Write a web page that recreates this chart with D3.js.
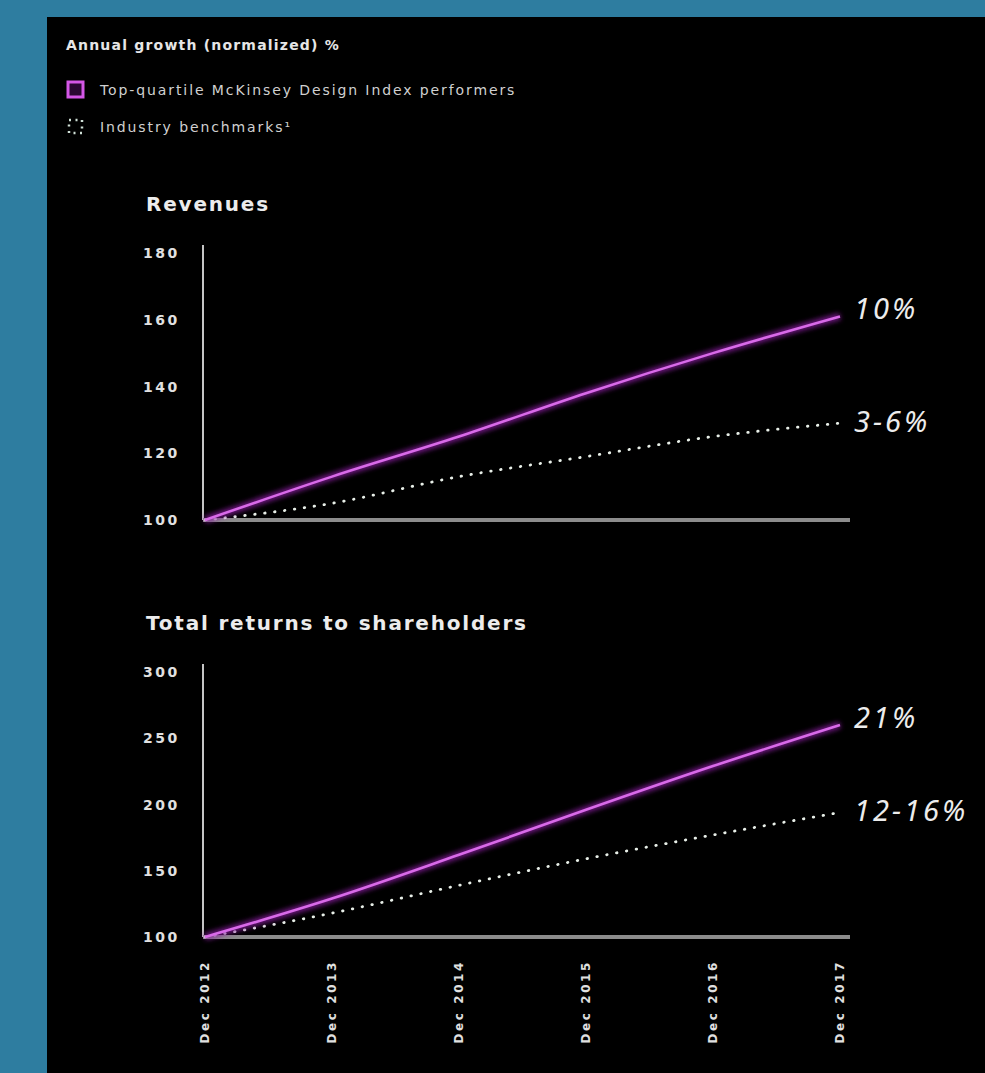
<!DOCTYPE html>
<html>
<head>
<meta charset="utf-8">
<script src="https://cdn.jsdelivr.net/npm/d3@7"></script>
<style>
  html, body { margin: 0; padding: 0; background: #2e7da0; }
  svg { display: block; }
</style>
</head>
<body>
<svg id="chart" width="985" height="1073"></svg>
<script>
// data
let years = [2012, 2013, 2014, 2015, 2016, 2017]
let yearLabels = ['Dec 2012', 'Dec 2013', 'Dec 2014', 'Dec 2015', 'Dec 2016', 'Dec 2017']

let revenueTop = [100, 113, 125, 138, 150, 161]
let revenueBench = [100, 105, 113, 119, 125, 129]
let revenueTicks = [100, 120, 140, 160, 180]
let revenueNotes = ['10%', '3-6%']

let trsTop = [100, 129, 162, 196, 229, 260]
let trsBench = [100, 118, 139, 159, 177, 194]
let trsTicks = [100, 150, 200, 250, 300]
let trsNotes = ['21%', '12-16%']

let legendLabels = ['Top-quartile McKinsey Design Index performers', 'Industry benchmarks¹']

let svg = d3.select('#chart')

// фон
svg.append('rect')
  .attr('x', 0).attr('y', 0)
  .attr('width', 985).attr('height', 1073)
  .attr('fill', '#2e7da0')
svg.append('rect')
  .attr('x', 47).attr('y', 17)
  .attr('width', 938).attr('height', 1056)
  .attr('fill', '#000')

let defs = svg.append('defs')
defs.append('filter')
  .attr('id', 'glow')
  .attr('x', '-10%').attr('y', '-50%')
  .attr('width', '120%').attr('height', '200%')
  .append('feGaussianBlur')
  .attr('stdDeviation', 2.5)

// заголовок и легенда
svg.append('text')
  .attr('x', 66).attr('y', 50)
  .attr('fill', '#e6e6e6')
  .style('font', 'bold 14px "DejaVu Sans"')
  .style('letter-spacing', '1.2px')
  .text('Annual growth (normalized) %')

let legend = svg.append('g').attr('transform', 'translate(67,81)')
legend.append('rect')
  .attr('x', 1).attr('y', 1)
  .attr('width', 15).attr('height', 15)
  .attr('fill', '#2a0832')
  .attr('stroke', '#d457e6')
  .attr('stroke-width', 3)
legend.append('rect')
  .attr('x', 2).attr('y', 39)
  .attr('width', 13).attr('height', 13)
  .attr('fill', 'none')
  .attr('stroke', '#cfe0d6')
  .attr('stroke-width', 2.5)
  .attr('stroke-dasharray', '2,4.5')
legend.selectAll('.legend-label')
  .data(legendLabels)
  .enter()
  .append('text')
  .attr('class', 'legend-label')
  .attr('x', 33)
  .attr('y', function (d, i) { return 14 + i * 37 })
  .attr('fill', '#d0d0d0')
  .style('font', '14px "DejaVu Sans"')
  .style('letter-spacing', '1.9px')
  .text(function (d) { return d })

let x = d3.scaleLinear()
  .domain([years[0], years[years.length - 1]])
  .range([205, 840])

function drawPanel (opts) {
  let y = d3.scaleLinear()
    .domain([opts.ticks[0], opts.ticks[opts.ticks.length - 1]])
    .range([opts.bottom, opts.top])

  let g = svg.append('g')

  g.append('text')
    .attr('x', 146).attr('y', opts.top - 42)
    .attr('fill', '#ececec')
    .style('font', 'bold 20px "DejaVu Sans"')
    .style('letter-spacing', '1.8px')
    .text(opts.title)

  // ось y
  g.append('line')
    .attr('x1', x.range()[0] - 2).attr('x2', x.range()[0] - 2)
    .attr('y1', opts.top - 8).attr('y2', opts.bottom)
    .attr('stroke', '#c4c4c4')
    .attr('stroke-width', 2)

  g.selectAll('.ytick')
    .data(opts.ticks)
    .enter()
    .append('text')
    .attr('class', 'ytick')
    .attr('x', 143)
    .attr('y', function (d) { return y(d) })
    .attr('dy', '0.36em')
    .attr('fill', '#e0e0e0')
    .style('font', 'bold 14px "DejaVu Sans"')
    .style('letter-spacing', '2.5px')
    .text(function (d) { return d })

  // ось x
  g.append('line')
    .attr('x1', x.range()[0] - 2).attr('x2', x.range()[1] + 10)
    .attr('y1', opts.bottom).attr('y2', opts.bottom)
    .attr('stroke', '#8c8c8c')
    .attr('stroke-width', 4)

  let line = d3.line()
    .x(function (d, i) { return x(years[i]) })
    .y(function (d) { return y(d) })
    .curve(d3.curveMonotoneX)

  // бенчмарк точками
  g.append('path')
    .datum(opts.bench)
    .attr('d', line)
    .attr('fill', 'none')
    .attr('stroke', '#e8efe8')
    .attr('stroke-width', 2.8)
    .attr('stroke-linecap', 'round')
    .attr('stroke-dasharray', '0.5,9.5')

  // линия лидеров
  g.append('path')
    .datum(opts.top4)
    .attr('d', line)
    .attr('fill', 'none')
    .attr('stroke', '#8a1fa0')
    .attr('stroke-width', 7)
    .attr('opacity', 0.8)
    .attr('filter', 'url(#glow)')
  g.append('path')
    .datum(opts.top4)
    .attr('d', line)
    .attr('fill', 'none')
    .attr('stroke', '#d86ae8')
    .attr('stroke-width', 2.6)

  // подписи в конце линий
  let ends = [opts.top4[opts.top4.length - 1], opts.bench[opts.bench.length - 1]]
  g.selectAll('.note')
    .data(opts.notes)
    .enter()
    .append('text')
    .attr('class', 'note')
    .attr('x', x.range()[1] + 14)
    .attr('y', function (d, i) { return y(ends[i]) })
    .attr('dy', function (d, i) { return i === 0 ? '0.1em' : '0.3em' })
    .attr('fill', '#ececec')
    .style('font', 'italic 29px "Noto Sans"')
    .style('letter-spacing', '3px')
    .text(function (d) { return d })

  return g
}

drawPanel({
  title: 'Revenues',
  ticks: revenueTicks,
  top4: revenueTop,
  bench: revenueBench,
  notes: revenueNotes,
  top: 253,
  bottom: 520
})

let trs = drawPanel({
  title: 'Total returns to shareholders',
  ticks: trsTicks,
  top4: trsTop,
  bench: trsBench,
  notes: trsNotes,
  top: 672,
  bottom: 937
})

// подписи дат
trs.selectAll('.xtick')
  .data(yearLabels)
  .enter()
  .append('text')
  .attr('class', 'xtick')
  .attr('transform', function (d, i) { return 'translate(' + x(years[i]) + ',960) rotate(-90)' })
  .attr('dy', '0.36em')
  .attr('text-anchor', 'end')
  .attr('fill', '#e0e0e0')
  .style('font', 'bold 12px "DejaVu Sans"')
  .style('letter-spacing', '2.6px')
  .text(function (d) { return d })
</script>
</body>
</html>
